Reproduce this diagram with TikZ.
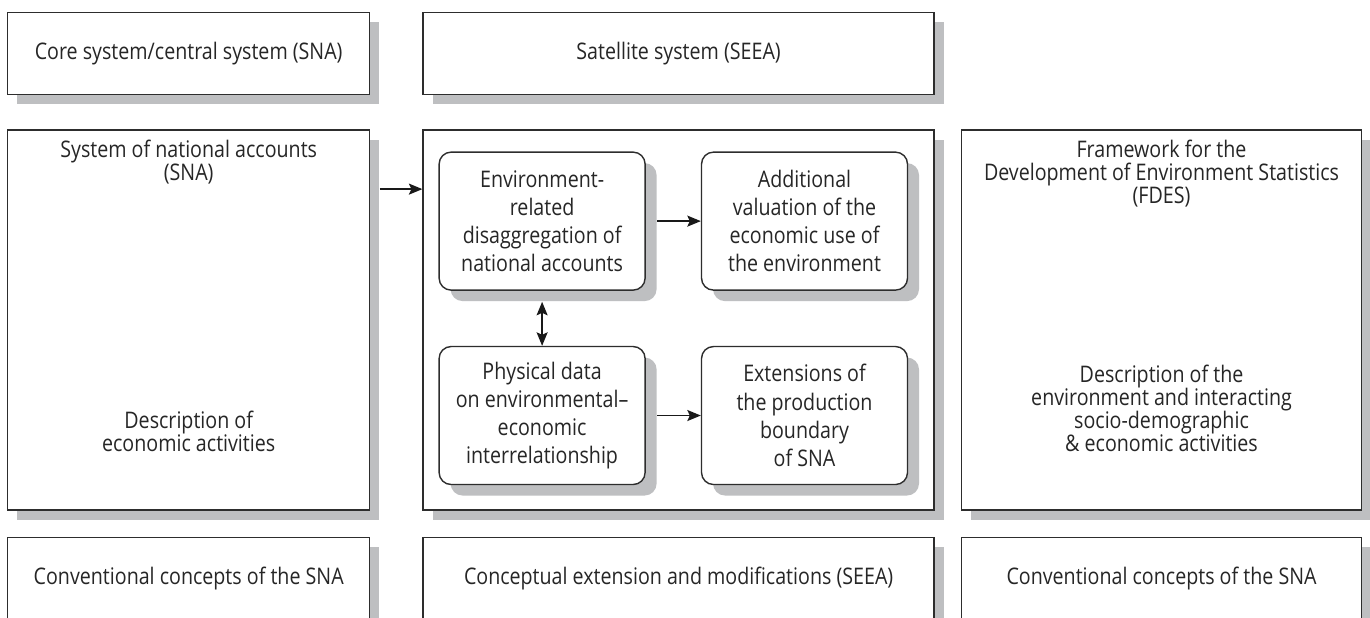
\documentclass[tikz,border=0pt]{standalone}
\usepackage{fontspec}
\setmainfont{Open Sans}[FakeStretch=0.86]
\usetikzlibrary{positioning,shadows,arrows.meta}
\definecolor{shadowgray}{RGB}{190,191,193}
\definecolor{linegray}{RGB}{45,45,45}

\tikzset{
  frame/.style={rectangle, draw=linegray, line width=0.8pt, fill=white, inner sep=0pt,
    drop shadow={shadow xshift=0.19cm, shadow yshift=-0.19cm, fill=shadowgray, opacity=1}},
  strip/.style={frame, minimum height=1.64cm, font=\fontsize{13}{13.1}\selectfont},
  panel/.style={frame, minimum height=7.6cm},
  inbox/.style={rectangle, rounded corners=0.24cm, draw=linegray, line width=0.8pt, fill=white,
    align=center, minimum width=4.12cm, minimum height=2.76cm, inner sep=0pt,
    font=\fontsize{13}{16}\selectfont,
    drop shadow={shadow xshift=0.23cm, shadow yshift=-0.22cm, fill=shadowgray, opacity=1}},
  paneltxt/.style={align=center, inner sep=0pt, font=\fontsize{13}{13.1}\selectfont},
  arr/.style={->, line width=0.9pt, draw=black!90},
}

\begin{document}
\begin{tikzpicture}[>={Stealth[length=0.27cm, width=0.22cm, inset=0.05cm]}, text=black!85]
  \useasboundingbox (0,0) rectangle (27.4,-12.34);

  % top row
  \node (core) [strip, minimum width=7.24cm, anchor=north west] at (0.14,-0.24) {Core system/central system (SNA)};
  \node (sat) [strip, minimum width=10.22cm, right=1.04cm of core] {Satellite system (SEEA)};

  % middle row
  \node (sna) [panel, minimum width=7.24cm, below=0.68cm of core] {};
  \node (seea) [panel, minimum width=10.22cm, below=0.68cm of sat] {};
  \node (fdes) [panel, minimum width=8cm, right=0.52cm of seea] {};

  % bottom row
  \node (conv1) [strip, minimum width=7.24cm, below=0.52cm of sna] {Conventional concepts of the SNA};
  \node (concext) [strip, minimum width=10.22cm, below=0.52cm of seea] {Conceptual extension and modifications (SEEA)};
  \node (conv2) [strip, minimum width=8cm, below=0.52cm of fdes] {Conventional concepts of the SNA};

  % panel texts
  \node (snahead) [paneltxt, below=0.2cm of sna.north] {System of national accounts\\(SNA)};
  \node (snadesc) [paneltxt, above=1.18cm of sna.south] {Description of\\economic activities};
  \node (fdeshead) [paneltxt, below=0.2cm of fdes.north] {Framework for the\\Development of Environment Statistics\\(FDES)};
  \node (fdesdesc) [paneltxt, above=1.18cm of fdes.south] {Description of the\\environment and interacting\\socio-demographic\\\& economic activities};

  % inner boxes of the satellite system
  \node (disagg) [inbox, below right=0.44cm and 0.32cm of seea.north west] {Environment-\\related\\disaggregation of\\national accounts};
  \node (valuation) [inbox, right=1.1cm of disagg] {Additional\\valuation of the\\economic use of\\the environment};
  \node (physical) [inbox, below=1.1cm of disagg] {Physical data\\on environmental--\\economic\\interrelationship};
  \node (boundary) [inbox, right=1.1cm of physical] {Extensions of\\the production\\boundary\\of SNA};

  \draw[arr] ([shift={(0.19cm,2.62cm)}]sna.east) -- ([yshift=2.62cm]seea.west);
  \draw[arr] ([xshift=0.23cm]disagg.east) -- (valuation.west);
  \draw[arr, <->] ([yshift=-0.22cm]disagg.south) -- (physical.north);
  \draw[arr] ([xshift=0.23cm]physical.east) -- (boundary.west);
\end{tikzpicture}
\end{document}
